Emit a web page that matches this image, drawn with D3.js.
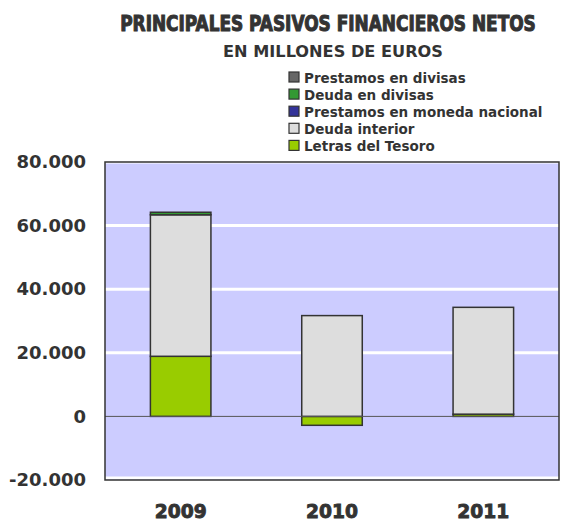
<!DOCTYPE html>
<html>
<head>
<meta charset="utf-8">
<script src="https://cdn.jsdelivr.net/npm/d3@7"></script>
<style>
  body { margin: 0; background: #fff; }
  text { font-family: "DejaVu Sans", sans-serif; font-weight: bold; fill: #333; }
</style>
</head>
<body>
<div id="chart"></div>
<script>
// data (millions of euros)
var years = ["2009", "2010", "2011"];
var seriesNames = ["Letras del  Tesoro", "Deuda interior", "Prestamos en moneda nacional", "Deuda en divisas", "Prestamos en divisas"];
var letras = [18900, -2800, 700];
var deudaInterior = [44500, 31700, 33600];
var prestamosNacional = [0, 0, 0];
var deudaDivisas = [800, 0, 0];
var prestamosDivisas = [0, 0, 0];
var seriesColors = ["#99cc00", "#dddddd", "#333399", "#339933", "#666666"];
var yTicks = [-20000, 0, 20000, 40000, 60000, 80000];

var svgWidth = 561;
var svgHeight = 523;
var plot = { left: 105, right: 559, top: 162, bottom: 480 };

var svg = d3.select("#chart")
  .append("svg")
  .attr("width", svgWidth)
  .attr("height", svgHeight);

// build rows for the stack
var allSeries = [letras, deudaInterior, prestamosNacional, deudaDivisas, prestamosDivisas];
var rows = years.map(function(y, i) {
  var row = { year: y };
  seriesNames.forEach(function(n, j) { row[n] = allSeries[j][i]; });
  return row;
});

var stacked = d3.stack()
  .keys(seriesNames)
  .offset(d3.stackOffsetDiverging)(rows);

var x = d3.scaleBand()
  .domain(years)
  .range([plot.left, plot.right]);

var y = d3.scaleLinear()
  .domain([-20000, 80000])
  .range([plot.bottom, plot.top]);

// "80.000" style, plain hyphen for negatives
var fmt = function(d) {
  return (d < 0 ? "-" : "") + d3.format(",")(Math.abs(d)).replace(/,/g, ".");
};

// squeeze a text horizontally to a given width, keeping its centre
function fitWidth(sel, cx, w) {
  var natural = sel.node().getComputedTextLength();
  sel.attr("x", 0)
    .attr("transform", "translate(" + cx + ",0) scale(" + (w / natural) + ",1)");
}

// plot background
svg.append("rect")
  .attr("x", plot.left)
  .attr("y", plot.top)
  .attr("width", plot.right - plot.left)
  .attr("height", plot.bottom - plot.top)
  .attr("fill", "#ccccff");

// gridlines
svg.append("g")
  .selectAll("line")
  .data(yTicks.filter(function(d) { return d !== 0; }))
  .enter()
  .append("line")
  .attr("x1", plot.left)
  .attr("x2", plot.right)
  .attr("y1", function(d) { return y(d) + (d === -20000 ? -2 : 0); })
  .attr("y2", function(d) { return y(d) + (d === -20000 ? -2 : 0); })
  .attr("stroke", "#fff")
  .attr("stroke-width", 3);

// y axis labels
var leftAxis = d3.axisLeft(y).tickValues(yTicks).tickFormat(fmt).tickSize(0).tickPadding(19);
var yAxis = svg.append("g")
  .attr("transform", "translate(" + plot.left + ",0)")
  .call(leftAxis);
yAxis.select(".domain").remove();
yAxis.selectAll("text")
  .style("font-family", "'DejaVu Sans', sans-serif")
  .style("font-size", "18px")
  .style("font-weight", "bold")
  .attr("fill", "#333");

// bars
var barWidth = x.bandwidth() * 0.4;
svg.append("g")
  .selectAll("g")
  .data(stacked)
  .enter()
  .append("g")
  .attr("fill", function(d, i) { return seriesColors[i]; })
  .selectAll("rect")
  .data(function(d) { return d; })
  .enter()
  .filter(function(d) { return d[1] !== d[0]; })
  .append("rect")
  .attr("x", function(d) { return x(d.data.year) + (x.bandwidth() - barWidth) / 2; })
  .attr("width", barWidth)
  .attr("y", function(d) { return y(Math.max(d[0], d[1])); })
  .attr("height", function(d) { return Math.abs(y(d[0]) - y(d[1])); })
  .attr("stroke", "#333")
  .attr("stroke-width", 1.5);

// zero line
svg.append("line")
  .attr("x1", plot.left)
  .attr("x2", plot.right)
  .attr("y1", y(0))
  .attr("y2", y(0))
  .attr("stroke", "#555")
  .attr("stroke-width", 1);

// plot border
svg.append("rect")
  .attr("x", plot.left)
  .attr("y", plot.top)
  .attr("width", plot.right - plot.left)
  .attr("height", plot.bottom - plot.top)
  .attr("fill", "none")
  .attr("stroke", "#333")
  .attr("stroke-width", 1.5);

// x axis labels
svg.append("g")
  .selectAll("text")
  .data(years)
  .enter()
  .append("text")
  .attr("y", 518)
  .attr("text-anchor", "middle")
  .style("font-size", "20px")
  .style("stroke", "#333")
  .style("stroke-width", 0.9)
  .text(function(d) { return d; })
  .each(function(d) { fitWidth(d3.select(this), x(d) + x.bandwidth() / 2, 52); });

// titles
var title = svg.append("text")
  .attr("y", 31)
  .attr("text-anchor", "middle")
  .style("font-family", "'DejaVu Sans Condensed', 'DejaVu Sans', sans-serif")
  .style("font-size", "21px")
  .style("stroke", "#333")
  .style("stroke-width", 1)
  .text("PRINCIPALES PASIVOS FINANCIEROS NETOS");
fitWidth(title, 328, 416);

var subtitle = svg.append("text")
  .attr("y", 57)
  .attr("text-anchor", "middle")
  .style("font-size", "15.5px")
  .text("EN MILLONES DE EUROS");
fitWidth(subtitle, 333, 220);

// legend, top series first
var legendOrder = d3.range(seriesNames.length).reverse();
var legend = svg.append("g")
  .selectAll("g")
  .data(legendOrder)
  .enter()
  .append("g")
  .attr("transform", function(d, i) { return "translate(289," + (72 + i * 17.1) + ")"; });

legend.append("rect")
  .attr("width", 10)
  .attr("height", 10)
  .attr("fill", function(d) { return seriesColors[d]; })
  .attr("stroke", "#333")
  .attr("stroke-width", 1.2);

legend.append("text")
  .attr("x", 15)
  .attr("y", 11)
  .style("font-size", "13.5px")
  .text(function(d) { return seriesNames[d]; });
</script>
</body>
</html>
